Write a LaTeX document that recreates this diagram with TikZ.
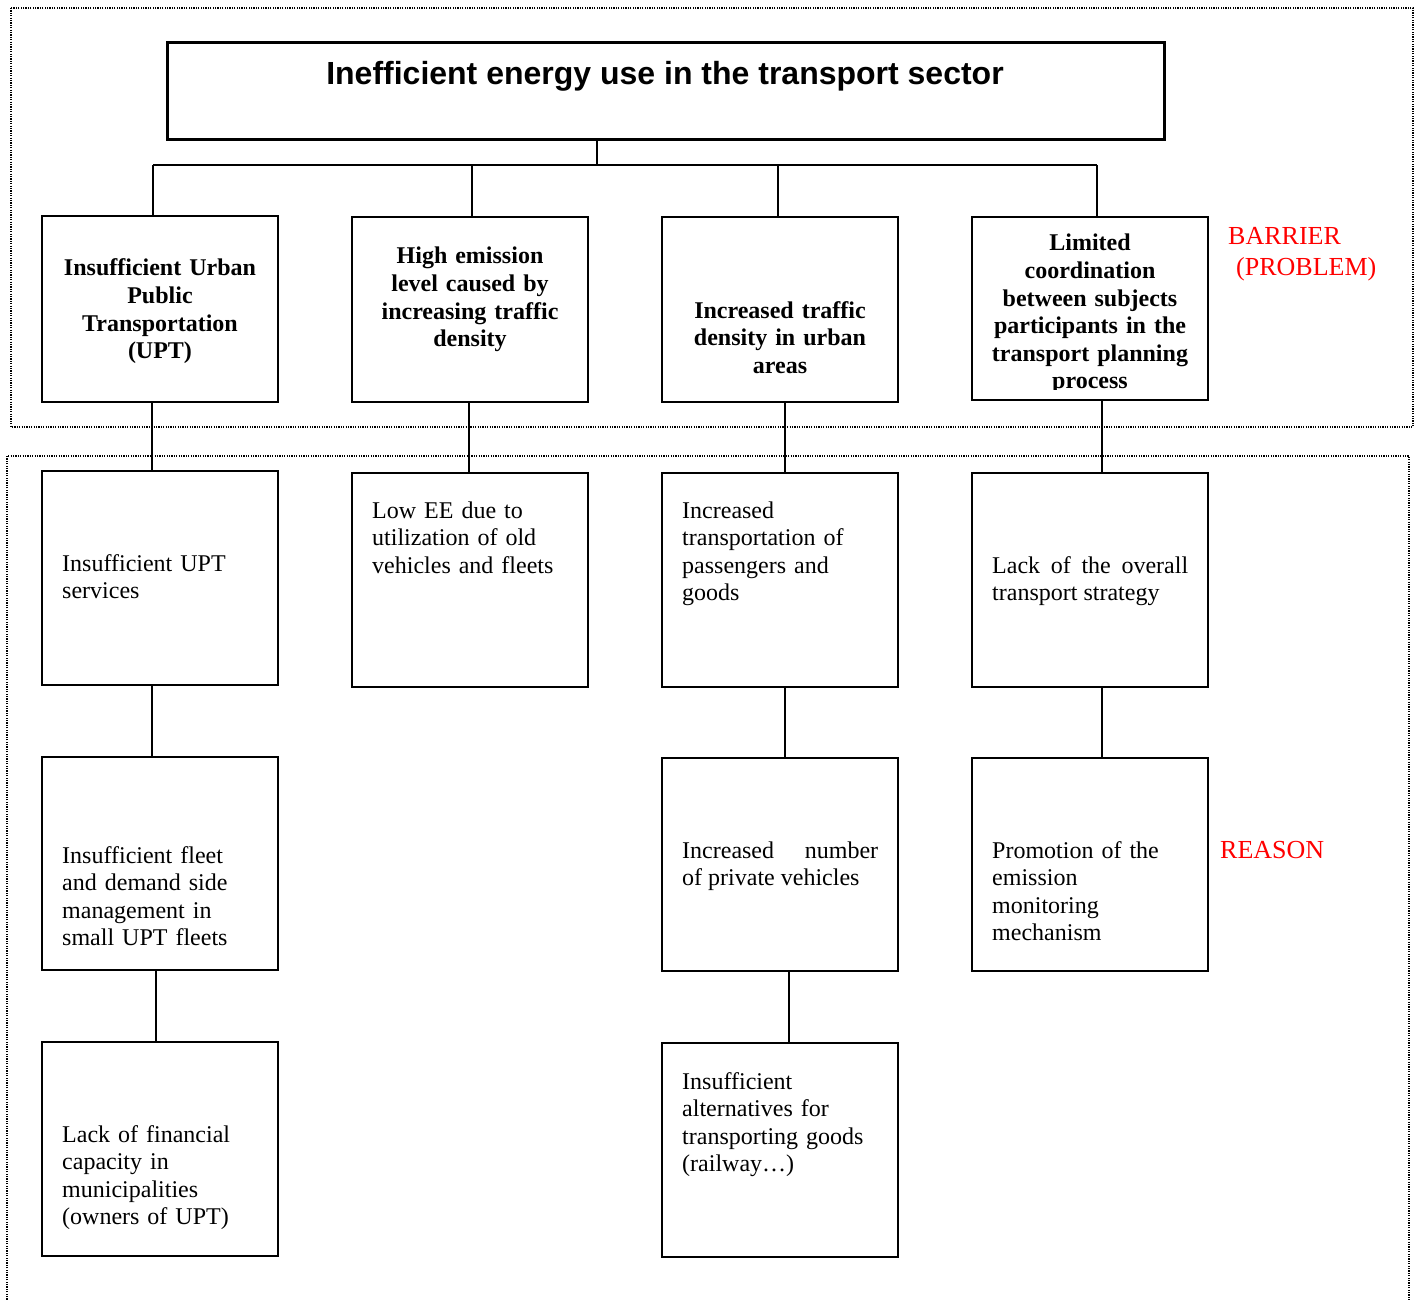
\documentclass[tikz,border=0pt]{standalone}
\usepackage{fontspec}
\setmainfont{Liberation Serif}
\newfontfamily\titlefont{Liberation Sans}
\begin{document}
\begin{tikzpicture}[x=1pt,y=-1pt,
  box/.style={draw,line width=2pt,inner sep=0pt,outer sep=0pt,anchor=north west,minimum width=236pt},
  conn/.style={line width=2pt},
  frame/.style={line width=1.2pt,dash pattern=on 1.2pt off 1.2pt},
  body/.style={inner sep=0pt,anchor=base west,align=left,text width=220pt,font=\fontsize{24}{27.6}\selectfont},
  just/.style={inner sep=0pt,anchor=base west,align=justify,text width=196pt,font=\fontsize{24}{27.6}\selectfont},
  head/.style={inner sep=0pt,anchor=base,align=center,text width=236pt,font=\fontsize{24}{27.6}\selectfont\bfseries},
  tag/.style={inner sep=0pt,anchor=base west,text=red,font=\fontsize{26}{30}\selectfont}]
\useasboundingbox (0,0) rectangle (1417,1300);

% dotted frames: barriers (top) and reasons (bottom)
\draw[frame] (11,8) rectangle (1413,427);
\draw[frame] (7,1302) -- (7,456) -- (1409,456) -- (1409,1302);

% main problem
\node[draw,line width=3pt,inner sep=0pt,outer sep=0pt,anchor=north west,
  minimum width=997pt,minimum height=97pt] (title) at (167,43) {};
\node[inner sep=0pt,anchor=base,font=\titlefont\bfseries\fontsize{32}{36}\selectfont]
  (titletext) at (665,85) {Inefficient energy use in the transport sector};

% barriers
\node[box,minimum height=186pt] (b1) at (42,216) {};
\node[box,minimum height=185pt] (b2) at (352,217) {};
\node[box,minimum height=185pt] (b3) at (662,217) {};
\node[box,minimum height=183pt] (b4) at (972,217) {};

% reasons
\node[box,minimum height=214pt] (c1) at (42,471) {};
\node[box,minimum height=214pt] (c2) at (352,473) {};
\node[box,minimum height=214pt] (c3) at (662,473) {};
\node[box,minimum height=214pt] (c4) at (972,473) {};
\node[box,minimum height=213pt] (d1) at (42,757) {};
\node[box,minimum height=213pt] (d3) at (662,758) {};
\node[box,minimum height=213pt] (d4) at (972,758) {};
\node[box,minimum height=214pt] (e1) at (42,1042) {};
\node[box,minimum height=214pt] (e3) at (662,1043) {};

% barrier texts
\node[head] (b1t) at (160,276) {Insufficient Urban\\Public\\Transportation\\(UPT)};
\node[head] (b2t) at (470,264) {High emission\\level caused by\\increasing traffic\\density};
\node[head] (b3t) at (780,318) {Increased traffic\\density in urban\\areas};
\begin{scope}
  \clip (972,217) rectangle (1208,389);
  \node[head] (b4t) at (1090,251) {Limited\\coordination\\between subjects\\participants in the\\transport planning\\process};
\end{scope}

% reason texts
\node[body] (c1t) at (62,571) {Insufficient UPT\\services};
\node[body] (c2t) at (372,518) {Low EE due to\\utilization of old\\vehicles and fleets};
\node[body] (c3t) at (682,518) {Increased\\transportation of\\passengers and\\goods};
\node[just] (c4t) at (992,573) {Lack of the overall\linebreak transport strategy};
\node[body] (d1t) at (62,863) {Insufficient fleet\\and demand side\\management in\\small UPT fleets};
\node[just] (d3t) at (682,858) {Increased number\linebreak of private vehicles};
\node[body] (d4t) at (992,858) {Promotion of the\\emission\\monitoring\\mechanism};
\node[body] (e1t) at (62,1142) {Lack of financial\\capacity in\\municipalities\\(owners of UPT)};
\node[body] (e3t) at (682,1089) {Insufficient\\alternatives for\\transporting goods\\(railway\ldots)};

% section labels
\node[tag] (barrier) at (1228,245) {BARRIER};
\node[tag] (problem) at (1236,276) {(PROBLEM)};
\node[tag] (reason) at (1220,858) {REASON};

% connectors from the main problem to the barriers
\coordinate (busL) at (153,165);
\coordinate (busR) at (1097,165);
\draw[conn] (title.south -| 597,0) -- (597,165);
\draw[conn] (busL) -- (busR);
\draw[conn] (busL) -- (busL |- b1.north);
\draw[conn] (472,165) -- (b2.north -| 472,0);
\draw[conn] (778,165) -- (b3.north -| 778,0);
\draw[conn] (busR) -- (busR |- b4.north);

% connectors along each chain of reasons
\draw[conn] (b1.south -| 152,0) -- (c1.north -| 152,0);
\draw[conn] (b2.south -| 469,0) -- (c2.north -| 469,0);
\draw[conn] (b3.south -| 785,0) -- (c3.north -| 785,0);
\draw[conn] (b4.south -| 1102,0) -- (c4.north -| 1102,0);
\draw[conn] (c1.south -| 152,0) -- (d1.north -| 152,0);
\draw[conn] (c3.south -| 785,0) -- (d3.north -| 785,0);
\draw[conn] (c4.south -| 1102,0) -- (d4.north -| 1102,0);
\draw[conn] (d1.south -| 156,0) -- (e1.north -| 156,0);
\draw[conn] (d3.south -| 789,0) -- (e3.north -| 789,0);
\end{tikzpicture}
\end{document}
